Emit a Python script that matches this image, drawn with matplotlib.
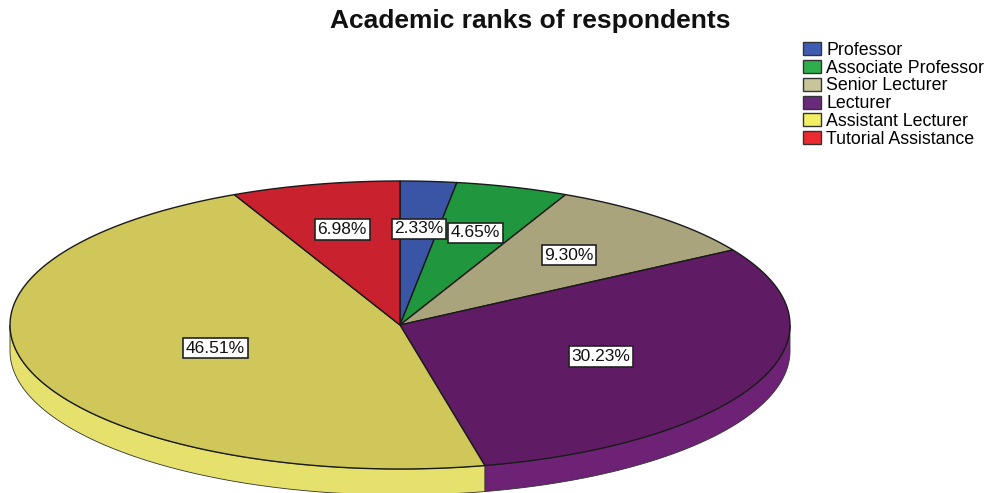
import numpy as np
import matplotlib.pyplot as plt
from matplotlib.patches import Polygon, Patch

plt.rcParams['font.family'] = ['Liberation Sans', 'DejaVu Sans']

# academic rank shares (%)
ranks = ['Professor', 'Associate Professor', 'Senior Lecturer', 'Lecturer',
         'Assistant Lecturer', 'Tutorial Assistance']
shares = [2.33, 4.65, 9.30, 30.23, 46.51, 6.98]

top_colors = ['#3a55a6', '#20973e', '#a9a47c', '#5f1c64', '#cfc75a', '#c9222e']
side_colors = ['#4a65b6', '#2aa84a', '#b9b48c', '#6e2276', '#e6e16c', '#d9323e']
legend_colors = ['#3f5cb4', '#2eae4d', '#c9c59b', '#6a2a7c', '#f2ef62', '#ec2a30']
label_r = [0.67, 0.67, 0.65, 0.56, 0.50, 0.68]

# ellipse geometry in pixel space
cx, cy, a, b, depth = 400, 325, 390, 144, 26

fig = plt.figure(figsize=(10, 4.93), dpi=100)
ax = fig.add_axes([0, 0, 1, 1])
ax.set_xlim(0, 1000)
ax.set_ylim(493, 0)
ax.axis('off')


def pt(t, r=1.0, dy=0.0):
    return cx + r * a * np.sin(t), cy - r * b * np.cos(t) + dy


frac = np.array(shares) / sum(shares)
edges = np.concatenate([[0], np.cumsum(frac)]) * 2 * np.pi

# side walls along the front half
for i in range(len(shares)):
    t0, t1 = max(edges[i], np.pi / 2), min(edges[i + 1], 3 * np.pi / 2)
    if t1 <= t0:
        continue
    ts = np.linspace(t0, t1, 120)
    xs, ys = pt(ts)
    poly = list(zip(xs, ys)) + list(zip(xs[::-1], ys[::-1] + depth))
    ax.add_patch(Polygon(poly, closed=True, facecolor=side_colors[i],
                         edgecolor='#333333', lw=0.6, zorder=1))

# top faces
for i in range(len(shares)):
    ts = np.linspace(edges[i], edges[i + 1], 200)
    xs, ys = pt(ts)
    poly = [(cx, cy)] + list(zip(xs, ys))
    ax.add_patch(Polygon(poly, closed=True, facecolor=top_colors[i],
                         edgecolor='#1a1a1a', lw=1.0, zorder=2))

# percentage labels
for i, s in enumerate(shares):
    tm = (edges[i] + edges[i + 1]) / 2
    lx, ly = pt(tm, label_r[i])
    ax.text(lx, ly, f'{s:.2f}%', ha='center', va='center', fontsize=12.5,
            color='#111111', zorder=5,
            bbox=dict(boxstyle='square,pad=0.15', fc='white', ec='#222222', lw=1.2))

ax.text(530, 21, 'Academic ranks of respondents', ha='center', va='center',
        fontsize=19, fontweight='bold', color='#111111')

handles = [Patch(facecolor=c, edgecolor='#333333', lw=1) for c in legend_colors]
fig.legend(handles, ranks, loc='upper left', bbox_to_anchor=(0.796, 0.93),
           frameon=False, fontsize=12.8, handlelength=1.0, handleheight=0.75,
           handletextpad=0.3, labelspacing=0.05, borderaxespad=0)

fig.savefig('out.png', dpi=100)
